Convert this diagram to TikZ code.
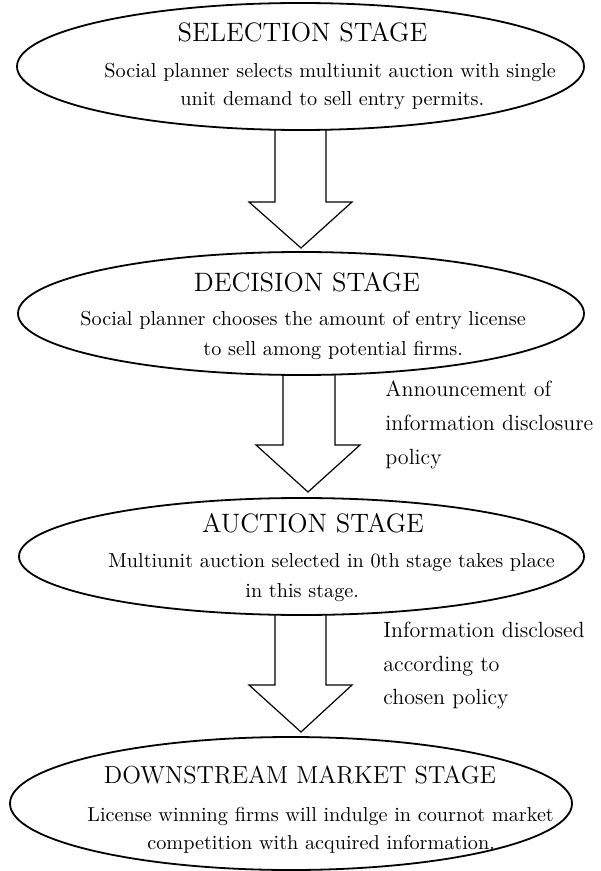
\documentclass[tikz,border=0pt]{standalone}
\usetikzlibrary{shapes.geometric}
\begin{document}
\begin{tikzpicture}[x=0.5pt,y=-0.5pt,
  stage/.style={draw, ellipse, line width=0.9pt, inner sep=0pt, outer sep=0pt},
  ttl/.style={anchor=base, font=\fontsize{13.3}{16}\selectfont, inner sep=0pt},
  ttlb/.style={anchor=base, font=\fontsize{12.3}{15}\selectfont, inner sep=0pt},
  body/.style={anchor=base west, font=\fontsize{10.1}{12}\selectfont, inner sep=0pt},
  side/.style={anchor=base west, font=\fontsize{11}{13}\selectfont, inner sep=0pt},
  blk/.style={draw, line width=0.6pt, line join=miter}]
\useasboundingbox (0,0) rectangle (600,871);
% stages
\node[stage, minimum width=283.5pt, minimum height=63.5pt] (e1) at (300.5,66.5) {};
\node[stage, minimum width=283pt, minimum height=61.5pt] (e2) at (301,313.5) {};
\node[stage, minimum width=282.5pt, minimum height=58.5pt] (e3) at (301.5,556.5) {};
\node[stage, minimum width=281pt, minimum height=66.5pt] (e4) at (291,803.5) {};
% texts
\node[ttl] (t1) at (302.5,41.5) {SELECTION STAGE};
\node[body] (b1a) at (104,78) {Social planner selects multiunit auction with single};
\node[body] (b1b) at (180,106) {unit demand to sell entry permits.};
\node[ttl] (t2) at (307,292) {DECISION STAGE};
\node[body] (b2a) at (80,325) {Social planner chooses the amount of entry license};
\node[body] (b2b) at (203,355) {to sell among potential firms.};
\node[ttl] (t3) at (313,532) {AUCTION STAGE};
\node[body] (b3a) at (108,567) {Multiunit auction selected in 0th stage takes place};
\node[body] (b3b) at (245,597) {in this stage.};
\node[ttlb] (t4) at (300,783) {DOWNSTREAM MARKET STAGE};
\node[body] (b4a) at (87,821) {License winning firms will indulge in cournot market};
\node[body] (b4b) at (147,849) {competition with acquired information.};
% side notes
\node[side] (s2a) at (385,396) {Announcement of};
\node[side] (s2b) at (385,430) {information disclosure};
\node[side] (s2c) at (385,464) {policy};
\node[side] (s3a) at (383,637) {Information disclosed};
\node[side] (s3b) at (383,671) {according to};
\node[side] (s3c) at (383,704) {chosen policy};
% block arrows
\coordinate (a1l) at (275,0); \coordinate (a1r) at (326,0);
\coordinate (a2l) at (283,0); \coordinate (a2r) at (335,0);
\coordinate (a3l) at (275,0); \coordinate (a3r) at (326,0);
\draw[blk] (a1l |- e1.south) -- (275,202) -- (249,202) -- (301,248) -- (352,202) -- (326,202) -- (a1r |- e1.south);
\draw[blk] (a2l |- e2.south) -- (283,445) -- (256,445) -- (308,492) -- (360,445) -- (335,445) -- (a2r |- e2.south);
\draw[blk] (a3l |- e3.south) -- (275,685) -- (249,685) -- (301,732) -- (352,685) -- (326,685) -- (a3r |- e3.south);
\end{tikzpicture}
\end{document}
